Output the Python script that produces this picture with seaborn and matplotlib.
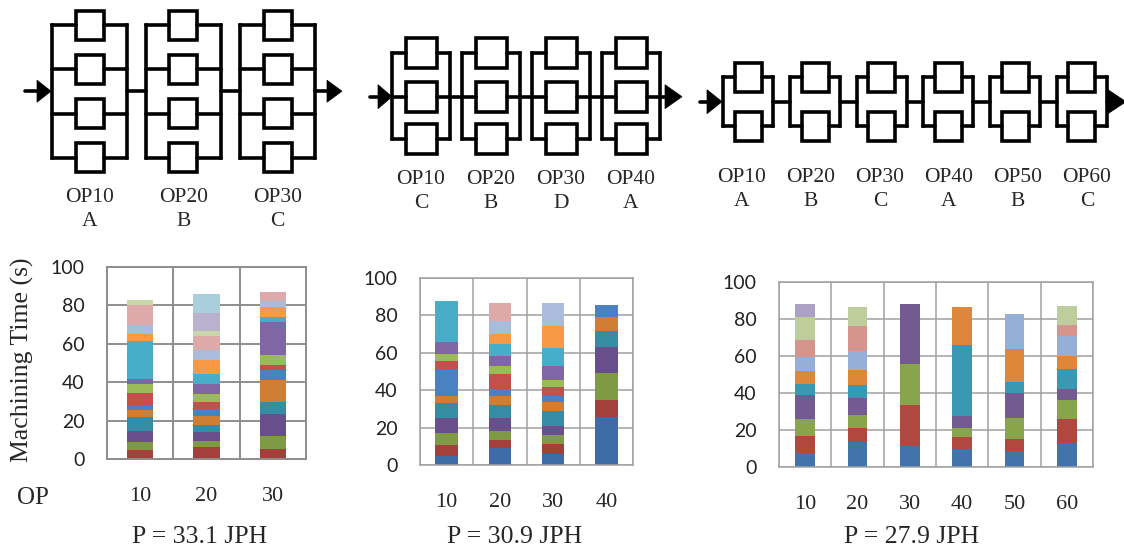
import numpy as np
import pandas as pd
import seaborn as sns
import matplotlib.pyplot as plt
from matplotlib.patches import Rectangle, Polygon

sns.set_style("white")
plt.rcParams['font.family'] = ['Liberation Serif', 'DejaVu Serif']

# --- data: segment heights (s) per bar, bottom to top ---
ops1 = ["10", "20", "30"]
bar1_10 = [4.6, 4.3, 5.5, 7.5, 3.5, 2.5, 6.3, 4.7, 3.0, 19.7, 3.5, 4.7, 10.2, 2.8]
bar1_20 = [6.5, 3.1, 4.3, 4.0, 4.4, 3.8, 3.5, 4.1, 5.6, 4.9, 7.4, 5.1, 7.2, 2.8, 9.6, 9.5]
bar1_30 = [5.4, 6.5, 11.3, 6.4, 11.5, 5.2, 2.8, 5.3, 16.8, 2.8, 5.3, 3.0, 4.7]

ops2 = ["10", "20", "30", "40"]
bar2_10 = [4.8, 5.9, 6.4, 8.3, 7.9, 3.4, 14.9, 4.1, 3.4, 6.7, 21.7]
bar2_20 = [8.9, 4.6, 4.8, 7.1, 6.6, 4.8, 4.1, 7.7, 4.2, 5.4, 6.6, 5.3, 7.1, 9.6]
bar2_30 = [5.9, 5.3, 4.8, 4.8, 8.2, 4.8, 2.9, 4.9, 4.1, 7.1, 9.5, 12.1, 12.4]
bar2_40 = [25.6, 8.9, 14.8, 13.7, 8.4, 7.8, 6.4]

ops3 = ["10", "20", "30", "40", "50", "60"]
bar3_10 = [7.6, 9.3, 9.2, 13.0, 5.6, 7.0, 7.8, 9.0, 12.6, 7.2]
bar3_20 = [13.5, 7.4, 7.0, 9.4, 6.8, 8.2, 10.4, 13.3, 10.5]
bar3_30 = [11.2, 22.1, 22.4, 32.6]
bar3_40 = [9.5, 6.9, 4.5, 6.5, 38.7, 20.4]
bar3_50 = [8.8, 6.5, 11.0, 13.7, 6.1, 17.9, 18.5]
bar3_60 = [13.0, 12.8, 10.2, 6.0, 11.0, 6.8, 11.2, 5.8, 10.4]

rates = ["P = 33.1 JPH", "P = 30.9 JPH", "P = 27.9 JPH"]
stations1 = ["A", "B", "C"]
stations2 = ["C", "B", "D", "A"]
stations3 = ["A", "B", "C", "A", "B", "C"]

# excel-like colours
excel = ["#3E6CA6", "#A4403C", "#7E9A45", "#684E8A", "#348CA5", "#D07E33",
         "#4A81C2", "#C4504D", "#9BBB59", "#8066A5", "#47ADC9", "#F89A45",
         "#A9BCDB", "#DDAAA9", "#C7D7A9", "#B9B1CD", "#A9CFDD"]
pal1 = excel[1:]
pal2 = excel
pal3 = ["#4373AB", "#B0483F", "#89A54C", "#735A90", "#3A98B2", "#DE873A",
        "#95AFD6", "#D6948F", "#BDCD9C", "#ADA0C6"]

W, H = 1124, 556
fig = plt.figure(figsize=(W / 100, H / 100), dpi=100)
bg = fig.add_axes([0, 0, 1, 1])
bg.set_xlim(0, W)
bg.set_ylim(H, 0)
bg.axis("off")


def stacked(rect, cats, bars, pal, width, grid="#A0A0A0", glw=1.1):
    l, r, t, b = rect
    ax = fig.add_axes([l / W, (H - b) / H, (r - l) / W, (b - t) / H])
    nseg = max(len(s) for s in bars)
    # draw tallest cumulative first so the lower segments sit on top
    for k in reversed(range(nseg)):
        tops = [sum(s[:k + 1]) if k < len(s) else np.nan for s in bars]
        df = pd.DataFrame({"op": cats, "t": tops})
        sns.barplot(data=df, x="op", y="t", order=cats, color=pal[k],
                    width=width, saturation=1, linewidth=0, ax=ax)
    n = len(cats)
    ax.set_xlim(-0.5, n - 0.5)
    ax.set_ylim(0, 100)
    ax.set_xlabel("")
    ax.set_ylabel("")
    ax.set_yticks(range(0, 101, 20))
    ax.set_xticks(range(n), cats)
    ax.set_xticks(np.arange(-0.5, n, 1), minor=True)
    ax.set_axisbelow(True)
    ax.grid(axis="y", which="major", color=grid, lw=glw)
    ax.grid(axis="x", which="minor", color=grid, lw=glw)
    ax.tick_params(axis="x", which="major", length=0, pad=20, labelsize=16)
    ax.tick_params(axis="x", which="minor", length=6, width=glw, color=grid, direction="out")
    ax.tick_params(axis="y", length=6, width=glw, color=grid, direction="out", pad=10,
                   labelsize=14, labelcolor="#222222")
    for lab in ax.get_yticklabels():
        lab.set_family("Lato")
    for sp in ax.spines.values():
        sp.set_color(grid)
        sp.set_linewidth(glw)
    return ax


stacked((107, 306, 267, 459), ops1, [bar1_10, bar1_20, bar1_30], pal1, 0.4,
        grid="#8E8E8E", glw=1.4)
stacked((420, 633, 278, 465), ops2, [bar2_10, bar2_20, bar2_30, bar2_40], pal2, 0.42)
stacked((779, 1093, 282, 467), ops3, [bar3_10, bar3_20, bar3_30, bar3_40, bar3_50, bar3_60], pal3, 0.38)

# --- line layout diagrams ---
LW = 2.6


def block(left, width, rows, bw, bh):
    right = left + width
    cx = left + width / 2
    bg.plot([left, left], [rows[0], rows[-1]], color="black", lw=LW, solid_capstyle="projecting")
    bg.plot([right, right], [rows[0], rows[-1]], color="black", lw=LW, solid_capstyle="projecting")
    for y in rows:
        bg.plot([left, cx - bw / 2], [y, y], color="black", lw=LW)
        bg.plot([cx + bw / 2, right], [y, y], color="black", lw=LW)
        bg.add_patch(Rectangle((cx - bw / 2, y - bh / 2), bw, bh, fill=False,
                               edgecolor="black", lw=LW))


def arrow(x0, x1, y, half):
    bg.add_patch(Polygon([(x0, y - half), (x0, y + half), (x1, y)], closed=True,
                         facecolor="black", edgecolor="black", lw=0.5))


def line(lefts, width, rows, bw, bh, mid, start, arr_in, arr_out, half):
    for L in lefts:
        block(L, width, rows, bw, bh)
    for a, b in zip(lefts[:-1], lefts[1:]):
        bg.plot([a + width, b], [mid, mid], color="black", lw=LW)
    bg.plot([start, arr_in[0]], [mid, mid], color="black", lw=LW)
    arrow(arr_in[0], arr_in[1], mid, half)
    bg.plot([lefts[-1] + width, arr_out[0]], [mid, mid], color="black", lw=LW)
    arrow(arr_out[0], arr_out[1], mid, half)


line([52, 145.5, 240], 75, [25, 69, 113.5, 157.5], 28, 29, 91.2, 25,
     (37, 51), (327, 342), 11)
line([392, 462, 532, 602], 58, [52.7, 96.7, 139.3], 31, 30, 96.7, 370,
     (378, 392), (665, 682), 12)
line([723.3 + 66.7 * i for i in range(6)], 50, [77.3, 126], 27, 29, 101.7, 700,
     (707, 722), (1108, 1126), 12)

for i, s in enumerate(stations1):
    x = 89.5 + 94 * i
    bg.text(x, 197, f"OP{10 * (i + 1)}", ha="center", va="center", fontsize=15.5)
    bg.text(x, 222, s, ha="center", va="center", fontsize=15.5)
for i, s in enumerate(stations2):
    x = 421 + 70 * i
    bg.text(x, 180, f"OP{10 * (i + 1)}", ha="center", va="center", fontsize=15.5)
    bg.text(x, 203, s, ha="center", va="center", fontsize=15.5)
for i, s in enumerate(stations3):
    x = 742 + 69 * i
    bg.text(x, 177, f"OP{10 * (i + 1)}", ha="center", va="center", fontsize=15.5)
    bg.text(x, 202, s, ha="center", va="center", fontsize=15.5)

# --- labels ---
bg.text(22, 360, "Machining Time (s)", rotation=90, ha="center", va="center", fontsize=18.5)
bg.text(33, 498, "OP", ha="center", va="center", fontsize=18)
for x, r in zip([200, 515, 912], rates):
    bg.text(x, 537, r, ha="center", va="center", fontsize=18.5)

fig.savefig("out.png", dpi=100)
